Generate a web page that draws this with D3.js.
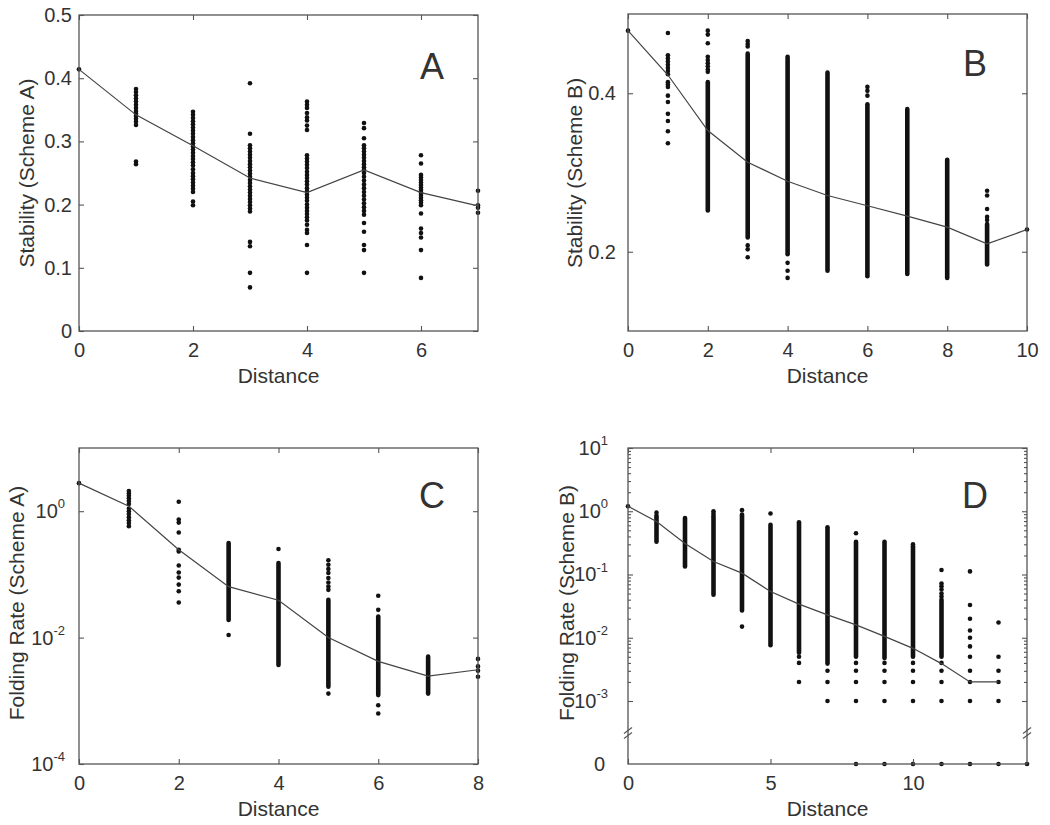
<!DOCTYPE html>
<html><head><meta charset="utf-8">
<script src="https://cdn.jsdelivr.net/npm/d3@7"></script>
<style>
body{margin:0;background:#fff}
svg text{font-family:"Liberation Sans",Arial,Helvetica,sans-serif;fill:#333}
</style>
</head><body>
<svg id="chart" width="1050" height="825"></svg>
<script>
// ---------------- DATA ----------------
// Panel A: Stability (Scheme A)
const aDistance = [0,1,2,3,4,5,6,7];
const aMean = [0.414,0.342,0.293,0.242,0.219,0.255,0.219,0.198];
const aPoints = [
  [0,[0.414]],
  [1,[0.383,0.378,0.373,0.368,0.363,0.358,0.353,0.348,0.344,0.340,0.336,0.331,0.326,0.268,0.264]],
  [2,[0.347,0.342,0.337,0.332,0.327,0.322,0.317,0.312,0.307,0.302,0.297,0.292,0.287,0.282,0.277,0.272,0.267,0.262,0.256,0.250,0.245,0.240,0.235,0.230,0.225,0.220,0.205,0.199]],
  [3,[0.392,0.312,0.294,0.289,0.284,0.279,0.274,0.269,0.264,0.259,0.254,0.249,0.244,0.239,0.234,0.229,0.224,0.219,0.214,0.209,0.204,0.199,0.194,0.189,0.141,0.134,0.092,0.069]],
  [4,[0.363,0.358,0.353,0.345,0.338,0.333,0.325,0.318,0.278,0.273,0.268,0.263,0.258,0.252,0.247,0.242,0.237,0.232,0.226,0.221,0.216,0.211,0.206,0.200,0.195,0.190,0.185,0.180,0.175,0.168,0.160,0.155,0.136,0.092]],
  [5,[0.329,0.321,0.305,0.294,0.289,0.284,0.279,0.274,0.269,0.264,0.259,0.255,0.250,0.244,0.238,0.232,0.226,0.220,0.214,0.208,0.202,0.196,0.190,0.184,0.171,0.157,0.136,0.128,0.092]],
  [6,[0.278,0.265,0.247,0.243,0.239,0.235,0.231,0.227,0.223,0.219,0.215,0.211,0.207,0.203,0.199,0.186,0.162,0.155,0.148,0.128,0.084]],
  [7,[0.222,0.199,0.195,0.187]]
];
const aXTicks = [0,2,4,6];
const aYTicks = [0,0.1,0.2,0.3,0.4,0.5];

// Panel B: Stability (Scheme B)
const bDistance = [0,1,2,3,4,5,6,7,8,9,10];
const bMean = [0.479,0.423,0.353,0.313,0.289,0.271,0.258,0.245,0.231,0.210,0.228];
const bPoints = [
  [0,[0.479]],
  [1,[0.476,0.448,0.444,0.440,0.436,0.432,0.428,0.424,0.414,0.411,0.408,0.397,0.389,0.374,0.365,0.352,0.337]],
  [2,[0.479,0.474,0.463,0.446,0.442,0.438,0.434,0.430,0.427]],
  [3,[0.466,0.462,0.459,0.208,0.203,0.193]],
  [4,[0.186,0.176,0.167]],
  [6,[0.408,0.403,0.397]],
  [9,[0.277,0.271,0.254,0.244,0.240]],
  [10,[0.228]]
];
const bBands = [[2,0.414,0.252],[3,0.450,0.218],[4,0.446,0.197],[5,0.426,0.176],[6,0.386,0.169],[7,0.380,0.172],[8,0.316,0.167],[9,0.235,0.184]];
const bXTicks = [0,2,4,6,8,10];
const bYTicks = [0.2,0.4];

// Panel C: Folding Rate (Scheme A)
const cDistance = [0,1,2,3,4,5,6,7,8];
const cMean = [2.78,1.2,0.246,0.064,0.039,0.010,0.0042,0.00246,0.0031];
const cPoints = [
  [0,[2.78]],
  [1,[2.08,1.9,1.75,1.6,1.45,1.3,1.1,1.0,0.9,0.8,0.72,0.65,0.58]],
  [2,[1.41,0.74,0.66,0.46,0.246,0.23,0.138,0.107,0.089,0.069,0.054,0.036]],
  [3,[0.011]],
  [4,[0.252]],
  [5,[0.167,0.142,0.122,0.105,0.0875,0.0746,0.0645,0.057,0.0013]],
  [6,[0.046,0.0275,0.00085,0.00063]],
  [8,[0.0046,0.0035,0.0030,0.0024]]
];
const cBands = [[3,0.314,0.019],[4,0.151,0.0037],[5,0.0396,0.00167],[6,0.0215,0.00123],[7,0.005,0.0013]];
const cXTicks = [0,2,4,6,8];
const cYTicks = [1e-4,1e-2,1];

// Panel D: Folding Rate (Scheme B)
const dDistance = [0,1,2,3,4,5,6,7,8,9,10,11,12,13];
const dMean = [1.2,0.69,0.31,0.16,0.105,0.054,0.034,0.023,0.016,0.0105,0.0068,0.0039,0.002,0.002];
const dPoints = [
  [0,[1.2]],
  [1,[0.95,0.85]],
  [3,[1.0,0.92,0.85]],
  [4,[1.04,0.015]],
  [5,[0.92]],
  [6,[0.005,0.004,0.002]],
  [7,[0.003,0.002,0.001]],
  [8,[0.45,0.004,0.003,0.002,0.001,0]],
  [9,[0.004,0.003,0.002,0.001,0]],
  [10,[0.30,0.004,0.003,0.002,0.001,0]],
  [11,[0.118,0.072,0.065,0.058,0.050,0.045,0.004,0.003,0.002,0.001,0]],
  [12,[0.112,0.033,0.020,0.013,0.010,0.0073,0.005,0.003,0.002,0.001,0]],
  [13,[0.0174,0.005,0.003,0.002,0.001,0]],
  [14,[0]]
];
const dBands = [[1,0.80,0.33],[2,0.78,0.134],[3,0.80,0.048],[4,0.89,0.027],[5,0.61,0.0076],[6,0.67,0.0058],[7,0.56,0.0039],[8,0.33,0.005],[9,0.33,0.0048],[10,0.28,0.005],[11,0.040,0.005]];
const dXTicks = [0,5,10];
const dYTicks = [1e-3,1e-2,1e-1,1,10];

// ---------------- DRAWING ----------------
const svg = d3.select("#chart");
const AXIS = "#555", INK = "#111", LINE = "#444";
const TICKFONT = 20, LABELFONT = 21;

function styleAxis(g){
  g.select(".domain").remove();
  g.selectAll(".tick line").attr("stroke",AXIS).attr("stroke-width",1.1);
  g.selectAll(".tick text").attr("font-size",TICKFONT).attr("fill","#333")
    .attr("font-family",'"Liberation Sans",Arial,sans-serif');
}
function supLabels(g, fmtExp){
  g.selectAll(".tick text").each(function(d){
    const t = d3.select(this); t.text("");
    t.append("tspan").text("10");
    t.append("tspan").attr("font-size",13).attr("dy","-0.75em").text(fmtExp(d));
  });
}

function panel(cfg){
  const {x0,x1,y0,y1,x,y} = cfg;
  const g = svg.append("g");
  // bands (dense columns)
  g.selectAll(null).data(cfg.bands||[]).enter().append("line")
    .attr("x1",d=>x(d[0])).attr("x2",d=>x(d[0]))
    .attr("y1",d=>y(d[1])).attr("y2",d=>y(d[2]))
    .attr("stroke",INK).attr("stroke-width",4.6).attr("stroke-linecap","round");
  // points
  const pts = cfg.points.flatMap(([dx,vals])=>vals.map(v=>[dx,v]));
  g.selectAll(null).data(pts).enter().append("circle")
    .attr("cx",d=>x(d[0])).attr("cy",d=>y(d[1])).attr("r",2.3).attr("fill",INK);
  // mean line
  const line = d3.line().x((d,i)=>x(cfg.dist[i])).y(d=>y(d));
  g.append("path").datum(cfg.mean).attr("d",line).attr("fill","none")
    .attr("stroke",LINE).attr("stroke-width",1.2);
  // frame
  g.append("rect").attr("x",x0).attr("y",y0).attr("width",x1-x0).attr("height",y1-y0)
    .attr("fill","none").attr("stroke",AXIS).attr("stroke-width",1.3);
  // axes (inward ticks)
  const gb = g.append("g").attr("transform",`translate(0,${y1})`)
    .call(d3.axisBottom(x).tickValues(cfg.xTicks).tickSize(-5).tickSizeOuter(0).tickPadding(12).tickFormat(d3.format("d")));
  styleAxis(gb);
  const gt = g.append("g").attr("transform",`translate(0,${y0})`)
    .call(d3.axisTop(x).tickValues(cfg.xTicks).tickSize(-5).tickSizeOuter(0).tickFormat(""));
  styleAxis(gt);
  const yAx = cfg.yAxisScale || y;
  const gl = g.append("g").attr("transform",`translate(${x0},0)`)
    .call(d3.axisLeft(yAx).tickValues(cfg.yTicks).tickSize(-5).tickSizeOuter(0).tickPadding(cfg.yPad).tickFormat(cfg.yFmt||(d=>d)));
  styleAxis(gl);
  if (cfg.sup) supLabels(gl, cfg.sup);
  const gr = g.append("g").attr("transform",`translate(${x1},0)`)
    .call(d3.axisRight(yAx).tickValues(cfg.yTicks).tickSize(-5).tickSizeOuter(0).tickFormat(""));
  styleAxis(gr);
  // axis labels
  g.append("text").attr("x",(x0+x1)/2).attr("y",y1+52).attr("text-anchor","middle")
    .attr("font-size",LABELFONT).text("Distance");
  g.append("text").attr("transform",`translate(${cfg.ylx},${cfg.yly}) rotate(-90)`)
    .attr("text-anchor","middle").attr("dy","0.35em").attr("font-size",LABELFONT).text(cfg.ylabel);
  // panel letter
  g.append("text").attr("x",cfg.lx).attr("y",cfg.ly).attr("text-anchor","middle")
    .attr("font-size",36).attr("fill","#111").text(cfg.letter);
  return g;
}

// Panel A
{
  const x = d3.scaleLinear().domain([0,7]).range([79,478]);
  const y = d3.scaleLinear().domain([0,0.5]).range([331,15]);
  panel({x0:79,x1:478,y0:15,y1:331,x,y,dist:aDistance,mean:aMean,points:aPoints,
    xTicks:aXTicks,yTicks:aYTicks,yPad:7,yFmt:d=>d===0?"0":String(d),
    ylabel:"Stability (Scheme A)",ylx:27,yly:173,letter:"A",lx:432,ly:79});
}
// Panel B
{
  const x = d3.scaleLinear().domain([0,10]).range([628,1027]);
  const y = d3.scaleLinear().domain([0.1,0.5]).range([331,14]);
  panel({x0:628,x1:1027,y0:14,y1:331,x,y,dist:bDistance,mean:bMean,points:bPoints,bands:bBands,
    xTicks:bXTicks,yTicks:bYTicks,yPad:12,yFmt:d=>String(d),
    ylabel:"Stability (Scheme B)",ylx:575,yly:173,letter:"B",lx:975,ly:76});
}
// Panel C
{
  const x = d3.scaleLinear().domain([0,8]).range([79,478]);
  const y = d3.scaleLog().domain([1e-4,10]).range([764,448]);
  panel({x0:79,x1:478,y0:448,y1:764,x,y,dist:cDistance,mean:cMean,points:cPoints,bands:cBands,
    xTicks:cXTicks,yTicks:cYTicks,yPad:14,sup:d=>String(Math.round(Math.log10(d))),
    ylabel:"Folding Rate (Scheme A)",ylx:17,yly:603,letter:"C",lx:432,ly:508});
}
// Panel D (log axis with a break down to zero)
{
  const x = d3.scaleLinear().domain([0,14]).range([628,1027]);
  const yLog = d3.scaleLog().domain([1e-3,10]).range([701,448]);
  const zeroY = 764;
  const y = v => v === 0 ? zeroY : yLog(v);
  const g = panel({x0:628,x1:1027,y0:448,y1:764,x,y,yAxisScale:yLog,dist:dDistance,mean:dMean,points:dPoints,bands:dBands,
    xTicks:dXTicks,yTicks:dYTicks,yPad:20,sup:d=>String(Math.round(Math.log10(d))),
    ylabel:"Folding Rate (Scheme B)",ylx:567,yly:603,letter:"D",lx:975,ly:508});
  // minor log ticks on both sides
  const minors = [];
  [1e-3,1e-2,1e-1,1].forEach(b=>{ for (let k=2;k<=9;k++) minors.push(b*k); });
  const ml = g.append("g").attr("transform","translate(628,0)")
    .call(d3.axisLeft(yLog).tickValues(minors).tickSize(-3).tickSizeOuter(0).tickFormat(""));
  styleAxis(ml);
  const mr = g.append("g").attr("transform","translate(1027,0)")
    .call(d3.axisRight(yLog).tickValues(minors).tickSize(-3).tickSizeOuter(0).tickFormat(""));
  styleAxis(mr);
  // zero label
  g.append("text").attr("x",605).attr("y",zeroY).attr("dy","0.35em").attr("text-anchor","end")
    .attr("font-size",TICKFONT).text("0");
  // break marks
  [628,1027].forEach(ax=>{
    [-2.5,2.5].forEach(off=>{
      g.append("line").attr("x1",ax-4).attr("x2",ax+4)
        .attr("y1",733+off+3).attr("y2",733+off-3)
        .attr("stroke",AXIS).attr("stroke-width",1.2);
    });
  });
}
</script>
</body></html>
